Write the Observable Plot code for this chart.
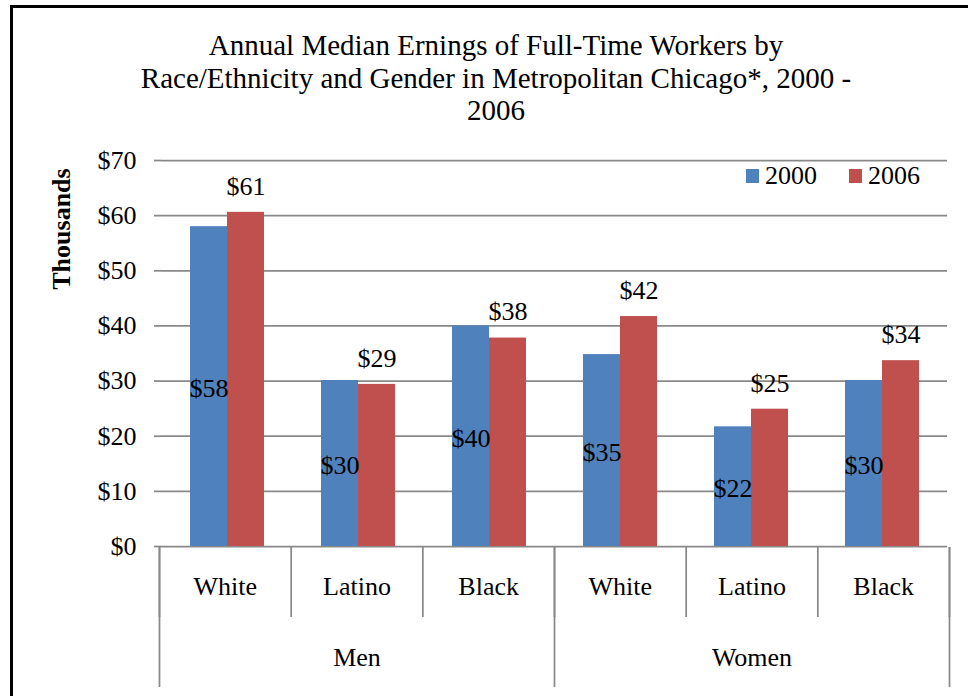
<!DOCTYPE html>
<html>
<head>
<meta charset="utf-8">
<script src="https://cdn.jsdelivr.net/npm/d3@7"></script>
<script src="https://cdn.jsdelivr.net/npm/@observablehq/plot@0.6"></script>
<style>
  html, body { margin: 0; padding: 0; background: #fff; overflow: hidden; width: 968px; height: 696px; }
  body { position: relative; font-family: "Liberation Serif", "Times New Roman", serif; color: #000; }
  #border { position: absolute; left: 10px; top: 5px; width: 990px; height: 720px; border: 3px solid #000; box-sizing: border-box; }
  #title { position: absolute; left: 0; top: 29px; width: 992px; text-align: center; font-size: 29px; line-height: 32.5px; white-space: nowrap; }
  #ylabel { position: absolute; left: -38px; top: 214px; width: 200px; height: 30px; line-height: 30px; text-align: center; font-size: 26px; font-weight: bold; transform: rotate(-90deg); }
  #legend { position: absolute; left: 746px; top: 161px; height: 30px; display: flex; align-items: center; font-size: 26px; line-height: 30px; }
  #legend .item { display: flex; align-items: center; margin-right: 32px; }
  #legend .sw { width: 13px; height: 14px; margin-right: 6px; display: inline-block; }
  #plot1 { position: absolute; left: 0; top: 135px; }
  #plot2 { position: absolute; left: 0; top: 547px; }
</style>
</head>
<body>
<div id="border"></div>
<div id="title">Annual Median Ernings of Full-Time Workers by<br>Race/Ethnicity and Gender in Metropolitan Chicago*, 2000 -<br>2006</div>
<div id="ylabel">Thousands</div>
<div id="plot1"></div>
<div id="plot2"></div>
<div id="legend"></div>
<script>
// ---- data ----
const races = ["White", "Latino", "Black", "White", "Latino", "Black"];
const genders = ["Men", "Men", "Men", "Women", "Women", "Women"];
const years = ["2000", "2006"];
const values2000 = [58.0, 30.1, 40.0, 34.8, 21.7, 30.1];
const values2006 = [60.6, 29.4, 37.8, 41.7, 24.9, 33.7];
const yTicks = [0, 10, 20, 30, 40, 50, 60, 70];
const colors = ["#4F81BD", "#C0504D"];

// ---- table ----
const keys = races.map((r, i) => genders[i] + " " + r);
const rows = [];
keys.forEach((k, i) => {
  rows.push({key: k, year: years[0], value: values2000[i]});
  rows.push({key: k, year: years[1], value: values2006[i]});
});
const fmt = v => "$" + Math.round(v);
const gridColor = "#898989";
const font = "'Liberation Serif', 'Times New Roman', serif";

// ---- main plot ----
const chart = Plot.plot({
  width: 968,
  height: 412,
  marginTop: 25,
  marginBottom: 1,
  marginLeft: 159,
  marginRight: 19,
  style: {fontFamily: font, fontSize: "26px", background: "transparent", overflow: "visible", color: "black"},
  fx: {domain: keys, padding: 0, axis: null},
  x: {domain: years, paddingInner: 0, paddingOuter: 0.7556, axis: null},
  y: {domain: [0, 70], axis: null},
  color: {domain: years, range: colors},
  marks: [
    Plot.ruleY(yTicks, {stroke: gridColor, strokeWidth: 1.75}),
    Plot.barY(rows, {fx: "key", x: "year", y: "value", fill: "year"}),
    Plot.text(rows.filter(d => d.year === years[1]), {fx: "key", x: "year", y: "value", text: d => fmt(d.value), dy: -26, fill: "black"}),
    Plot.text(rows.filter(d => d.year === years[0]), {fx: "key", x: "year", y: d => d.value / 2, text: d => fmt(d.value), dy: 2, fill: "black"}),
    Plot.axisY(yTicks, {tickSize: 7, tickPadding: 18, tickFormat: d => "$" + d, stroke: gridColor, strokeWidth: 1.75, fill: "black", line: true, label: null, fontSize: 26})
  ]
});
document.getElementById("plot1").appendChild(chart);

// ---- category axis (two levels) ----
const boundaries = d3.range(races.length + 1);
const groupBounds = boundaries.filter(i => i === 0 || i === races.length || genders[i] !== genders[i - 1]);
const groups = [];
genders.forEach((g, i) => {
  if (i === 0 || g !== genders[i - 1]) groups.push({name: g, start: i, end: i + 1});
  else groups[groups.length - 1].end = i + 1;
});
const axisChart = Plot.plot({
  width: 968,
  height: 149,
  marginTop: 0,
  marginBottom: 9,
  marginLeft: 159,
  marginRight: 19,
  style: {fontFamily: font, fontSize: "26px", background: "transparent", overflow: "visible", color: "black"},
  x: {domain: [0, races.length], axis: null},
  y: {domain: [0, 2], reverse: true, axis: null},
  marks: [
    Plot.ruleX(boundaries, {x: d => d, y1: () => 0, y2: () => 1, stroke: gridColor, strokeWidth: 1.75}),
    Plot.ruleX(groupBounds, {x: d => d, y1: () => 0, y2: () => 2, stroke: gridColor, strokeWidth: 1.75}),
    Plot.text(races, {x: (d, i) => i + 0.5, y: () => 0.5, text: d => d, dy: 4, fill: "black"}),
    Plot.text(groups, {x: d => (d.start + d.end) / 2, y: () => 1.5, text: d => d.name, dy: 5, fill: "black"})
  ]
});
document.getElementById("plot2").appendChild(axisChart);

// ---- legend ----
const legend = document.getElementById("legend");
years.forEach((y, i) => {
  const item = document.createElement("span");
  item.className = "item";
  const sw = document.createElement("span");
  sw.className = "sw";
  sw.style.background = colors[i];
  item.appendChild(sw);
  item.appendChild(document.createTextNode(y));
  legend.appendChild(item);
});
</script>
</body>
</html>
